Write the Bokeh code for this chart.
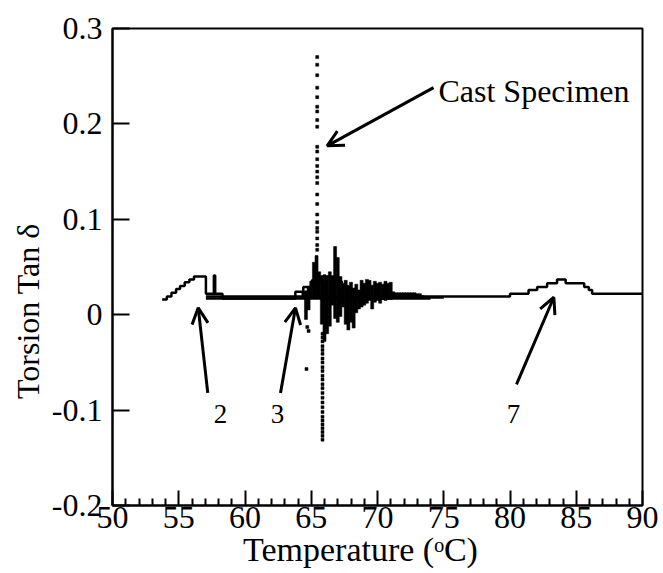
from bokeh.plotting import figure
from bokeh.models import Range1d, FixedTicker, Arrow, OpenHead, Label
from bokeh.embed import file_html
from bokeh.resources import INLINE

FONT = "Liberation Serif"
NBSP = "\u00a0"

# ---- axes ----
x_ticks = [50, 55, 60, 65, 70, 75, 80, 85, 90]
x_minor = [v for v in range(50, 91) if v % 5 != 0]
y_ticks = [-0.2, -0.1, 0.0, 0.1, 0.2, 0.3]
y_tick_labels = ["-0.2", "-0.1", "0", "0.1", "0.2", "0.3"]
x_title = "Temperature (\u1d52C)"
y_title = "Torsion Tan \u03b4"

# ---- sample "2" (step curve) ----
x2 = [53.75, 54.1, 54.45, 54.8, 55.1, 55.45, 55.8, 56.15, 57.05, 57.65, 57.75, 58.3, 74.0]
y2 = [0.016, 0.019, 0.023, 0.027, 0.030, 0.034, 0.037, 0.040, 0.022, 0.041, 0.022, 0.017, 0.017]

# ---- sample "3" ----
x3 = [57.05, 63.8, 64.4, 65.05, 65.7, 66.75, 67.3, 67.8, 68.5, 69.5, 75.0]
y3 = [0.017, 0.024, 0.029, 0.036, 0.040, 0.035, 0.030, 0.025, 0.021, 0.018, 0.018]

# ---- sample "7" ----
x7 = [57.05, 80.0, 81.4, 82.05, 82.8, 83.55, 84.2, 85.6, 85.95, 86.2, 90.0]
y7 = [0.019, 0.022, 0.026, 0.029, 0.033, 0.037, 0.033, 0.029, 0.026, 0.022, 0.022]

# ---- cast specimen: noisy band (temperature, low, high) ----
cast_x = [64.4, 64.6, 64.8, 65.0, 65.2, 65.4, 65.6, 65.8, 66.0, 66.2, 66.4, 66.6,
          66.8, 67.0, 67.2, 67.4, 67.6, 67.8, 68.0, 68.2, 68.4, 68.6, 68.8, 69.0,
          69.2, 69.4, 69.6, 69.8, 70.0, 70.2, 70.4, 70.6, 70.8, 71.0, 71.2, 71.4,
          71.6, 71.8, 72.0, 72.2, 72.4, 72.6, 72.8, 73.0, 73.2, 73.4]
cast_low = [0.017, -0.005, 0.005, 0.017, 0.017, 0.017, 0.017, -0.010, -0.028, -0.020, -0.012, 0.010,
            -0.004, -0.008, -0.002, 0.008, -0.010, -0.016, -0.008, -0.014, 0.002, 0.006, 0.008, 0.010,
            0.012, 0.015, 0.006, 0.013, 0.015, 0.012, 0.016, 0.015, 0.016, 0.016, 0.017, 0.017,
            0.017, 0.017, 0.017, 0.017, 0.017, 0.017, 0.017, 0.017, 0.017, 0.017]
cast_high = [0.024, 0.025, 0.028, 0.035, 0.055, 0.062, 0.045, 0.040, 0.042, 0.040, 0.045, 0.040,
             0.0715, 0.060, 0.040, 0.033, 0.036, 0.030, 0.034, 0.028, 0.032, 0.026, 0.036, 0.033,
             0.037, 0.036, 0.031, 0.035, 0.033, 0.034, 0.032, 0.035, 0.033, 0.034, 0.024, 0.023,
             0.023, 0.023, 0.023, 0.023, 0.023, 0.023, 0.023, 0.022, 0.022, 0.020]

# ---- cast specimen: scattered points of the sharp transition ----
cast_pt_x = [65.45] * 25 + [65.85] * 26 + [64.8, 64.64, 64.7]
cast_pt_y = [0.270, 0.262, 0.251, 0.238, 0.228, 0.218, 0.213, 0.204, 0.197, 0.176,
             0.171, 0.163, 0.156, 0.150, 0.144, 0.138, 0.126, 0.116, 0.105, 0.097,
             0.091, 0.087, 0.080, 0.073, 0.068,
             -0.020, -0.024, -0.028, -0.033, -0.037, -0.041, -0.046, -0.050, -0.055, -0.059,
             -0.064, -0.068, -0.073, -0.077, -0.082, -0.087, -0.092, -0.097, -0.102, -0.107,
             -0.111, -0.115, -0.119, -0.123, -0.127, -0.131,
             -0.017, -0.057, -0.013]

# ---- annotations ----
labels_text = ["2", "3", "7"]
labels_x = [58.15, 62.45, 80.26]
labels_y = [-0.104, -0.104, -0.104]
arrows_x0 = [57.19, 62.68, 80.49, 74.23]
arrows_y0 = [-0.082, -0.082, -0.073, 0.238]
arrows_x1 = [56.47, 63.81, 83.31, 66.2]
arrows_y1 = [0.0072, 0.0072, 0.0183, 0.177]
cast_label = "Cast Specimen"
cast_label_xy = (74.6, 0.235)

p = figure(width=660, height=573, x_range=Range1d(50, 90), y_range=Range1d(-0.2, 0.3),
           output_backend="svg", toolbar_location=None,
           min_border_left=112, min_border_right=18, min_border_top=28, min_border_bottom=68)
p.grid.visible = False
p.background_fill_color = "white"
p.border_fill_color = "white"
p.outline_line_color = "black"
p.outline_line_width = 2

p.xaxis.ticker = FixedTicker(ticks=x_ticks, minor_ticks=x_minor)
p.yaxis.ticker = FixedTicker(ticks=y_ticks)
p.yaxis.major_label_overrides = dict(zip(y_ticks, y_tick_labels))
p.xaxis.major_label_overrides = {t: str(t) for t in x_ticks}

for ax in (p.xaxis[0], p.yaxis[0]):
    ax.axis_line_width = 2
    ax.axis_line_color = "black"
    ax.major_tick_line_width = 2
    ax.major_tick_line_color = "black"
    ax.minor_tick_line_width = 2
    ax.minor_tick_line_color = "black"
    ax.major_tick_out = 0
    ax.minor_tick_out = 0
    ax.major_label_text_font = FONT
    ax.major_label_text_font_size = "32px"
    ax.major_label_text_color = "black"
    ax.axis_label_text_font = FONT
    ax.axis_label_text_font_size = "32px"
    ax.axis_label_text_font_style = "normal"
    ax.axis_label_text_color = "black"

p.xaxis.major_tick_in = 15
p.xaxis.minor_tick_in = 7
p.xaxis.major_label_standoff = 1
# trailing no-break spaces shift the centred title left, as in the reference
p.xaxis.axis_label = x_title + NBSP * 4
p.xaxis.axis_label_text_font_size = "34px"
p.xaxis.axis_label_standoff = 0

p.yaxis.major_tick_in = 17
p.yaxis.minor_tick_line_color = None
p.yaxis.major_label_standoff = 10
# trailing no-break spaces shift the centred title downward, as in the reference
p.yaxis.axis_label = y_title + NBSP * 11
p.yaxis.axis_label_standoff = 3

# data
p.step(x2, y2, mode="after", line_width=2.5, line_color="black")
p.step(x3, y3, mode="after", line_width=2.5, line_color="black")
p.step(x7, y7, mode="after", line_width=2.5, line_color="black")
p.vbar(x=cast_x, bottom=cast_low, top=cast_high, width=0.23, fill_color="black",
       line_color="black", line_width=0.5)
p.scatter(cast_pt_x, cast_pt_y, marker="square", size=3, fill_color="black", line_color="black", line_width=0.5)

for xa, ya, xb, yb in zip(arrows_x0, arrows_y0, arrows_x1, arrows_y1):
    p.add_layout(Arrow(end=OpenHead(size=16, line_width=3, line_color="black"),
                       x_start=xa, y_start=ya, x_end=xb, y_end=yb,
                       line_width=3, line_color="black"))

for t, xx, yy in zip(labels_text, labels_x, labels_y):
    p.add_layout(Label(x=xx, y=yy, text=t, text_align="center", text_baseline="middle",
                       text_font=FONT, text_font_size="27px", text_color="black"))

p.add_layout(Label(x=cast_label_xy[0], y=cast_label_xy[1], text=cast_label,
                   text_align="left", text_baseline="alphabetic",
                   text_font=FONT, text_font_size="32px", text_color="black"))

open("out.html", "w").write(file_html(p, INLINE))
